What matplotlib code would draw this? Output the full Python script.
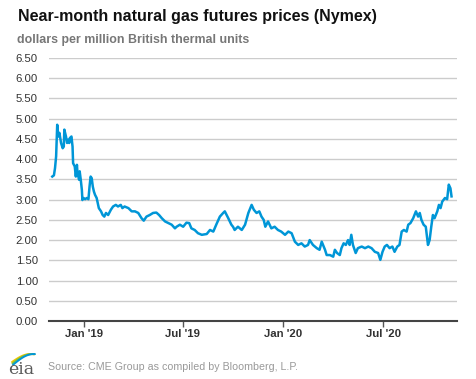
"""Near-month natural gas futures prices (Nymex), EIA style."""

import matplotlib

matplotlib.use("Agg")
import matplotlib.pyplot as plt
import numpy as np
import pandas as pd

plt.rcParams["font.family"] = ["Liberation Sans", "DejaVu Sans"]

dates = [
    "2018-11-05", "2018-11-08", "2018-11-10", "2018-11-12", "2018-11-14", "2018-11-16",
    "2018-11-18", "2018-11-21", "2018-11-24", "2018-11-26", "2018-11-27", "2018-11-30",
    "2018-12-02", "2018-12-04", "2018-12-06", "2018-12-07", "2018-12-10", "2018-12-12",
    "2018-12-13", "2018-12-16", "2018-12-18", "2018-12-20", "2018-12-21", "2018-12-24",
    "2018-12-25", "2018-12-27", "2018-12-29", "2018-12-30", "2019-01-01", "2019-01-04",
    "2019-01-07", "2019-01-10", "2019-01-12", "2019-01-14", "2019-01-16", "2019-01-18",
    "2019-01-20", "2019-01-22", "2019-01-25", "2019-01-27", "2019-01-29", "2019-02-02",
    "2019-02-05", "2019-02-08", "2019-02-11", "2019-02-15", "2019-02-20", "2019-02-24",
    "2019-03-01", "2019-03-05", "2019-03-10", "2019-03-13", "2019-03-17", "2019-03-24",
    "2019-03-30", "2019-04-05", "2019-04-11", "2019-04-17", "2019-04-21", "2019-04-26",
    "2019-05-02", "2019-05-08", "2019-05-14", "2019-05-19", "2019-05-24", "2019-05-30",
    "2019-06-05", "2019-06-11", "2019-06-17", "2019-06-20", "2019-06-26", "2019-07-02",
    "2019-07-08", "2019-07-13", "2019-07-17", "2019-07-23", "2019-07-29", "2019-08-05",
    "2019-08-14", "2019-08-20", "2019-08-26", "2019-09-01", "2019-09-07", "2019-09-13",
    "2019-09-16", "2019-09-22", "2019-09-28", "2019-10-01", "2019-10-04", "2019-10-10",
    "2019-10-17", "2019-10-23", "2019-10-29", "2019-11-04", "2019-11-08", "2019-11-13",
    "2019-11-18", "2019-11-22", "2019-11-26", "2019-11-29", "2019-12-04", "2019-12-10",
    "2019-12-16", "2019-12-22", "2019-12-28", "2020-01-04", "2020-01-10", "2020-01-16",
    "2020-01-22", "2020-01-28", "2020-02-03", "2020-02-09", "2020-02-15", "2020-02-18",
    "2020-02-24", "2020-03-02", "2020-03-07", "2020-03-11", "2020-03-17", "2020-03-20",
    "2020-03-26", "2020-04-01", "2020-04-04", "2020-04-08", "2020-04-13", "2020-04-16",
    "2020-04-20", "2020-04-24", "2020-04-28", "2020-05-01", "2020-05-04", "2020-05-07",
    "2020-05-12", "2020-05-16", "2020-05-23", "2020-05-29", "2020-06-04", "2020-06-10",
    "2020-06-16", "2020-06-22", "2020-06-26", "2020-06-30", "2020-07-04", "2020-07-08",
    "2020-07-13", "2020-07-18", "2020-07-22", "2020-07-27", "2020-07-31", "2020-08-04",
    "2020-08-08", "2020-08-13", "2020-08-16", "2020-08-20", "2020-08-25", "2020-08-30",
    "2020-09-03", "2020-09-06", "2020-09-09", "2020-09-13", "2020-09-17", "2020-09-21",
    "2020-09-24", "2020-09-27", "2020-09-30", "2020-10-03", "2020-10-08", "2020-10-11",
    "2020-10-14", "2020-10-17", "2020-10-22", "2020-10-26", "2020-10-29", "2020-11-01",
    "2020-11-03",
]
prices = [
    3.57, 3.60, 3.78, 4.07, 4.85, 4.56,
    4.65, 4.40, 4.27, 4.31, 4.73, 4.56,
    4.40, 4.48, 4.40, 4.52, 4.56, 4.31,
    3.90, 3.82, 3.57, 3.86, 3.66, 3.49,
    3.70, 3.49, 3.24, 2.99, 3.04, 3.01,
    3.04, 3.01, 3.32, 3.57, 3.53, 3.32,
    3.20, 3.12, 3.04, 2.91, 2.79, 2.71,
    2.62, 2.58, 2.67, 2.62, 2.75, 2.83,
    2.87, 2.83, 2.87, 2.79, 2.83, 2.79,
    2.71, 2.71, 2.67, 2.54, 2.48, 2.58,
    2.62, 2.67, 2.68, 2.62, 2.54, 2.46,
    2.42, 2.38, 2.29, 2.33, 2.38, 2.33,
    2.43, 2.42, 2.29, 2.25, 2.17, 2.13,
    2.15, 2.25, 2.21, 2.40, 2.58, 2.67,
    2.71, 2.55, 2.38, 2.33, 2.25, 2.33,
    2.25, 2.38, 2.67, 2.87, 2.75, 2.67,
    2.71, 2.58, 2.50, 2.33, 2.46, 2.29,
    2.33, 2.25, 2.21, 2.13, 2.21, 2.17,
    1.96, 1.88, 1.92, 1.84, 1.88, 2.00,
    1.88, 1.80, 1.76, 1.96, 1.76, 1.63,
    1.63, 1.59, 1.76, 1.68, 1.63, 1.80,
    1.92, 1.88, 2.00, 1.88, 2.13, 1.88,
    1.68, 1.80, 1.84, 1.80, 1.84, 1.80,
    1.71, 1.68, 1.51, 1.71, 1.84, 1.88,
    1.80, 1.84, 1.71, 1.84, 1.88, 2.21,
    2.25, 2.21, 2.38, 2.42, 2.54, 2.71,
    2.58, 2.67, 2.50, 2.38, 2.33, 1.88,
    2.00, 2.33, 2.62, 2.54, 2.71, 2.87,
    2.79, 2.95, 3.04, 3.01, 3.37, 3.28,
    3.08,
]
y_ticks = [0.0, 0.5, 1.0, 1.5, 2.0, 2.5, 3.0, 3.5, 4.0, 4.5, 5.0, 5.5, 6.0, 6.5]
x_ticks = ["2019-01-01", "2019-07-01", "2020-01-01", "2020-07-01"]
x_tick_labels = ["Jan '19", "Jul '19", "Jan '20", "Jul '20"]

W, H = 477, 379
fig = plt.figure(figsize=(W / 100, H / 100), dpi=100)
ax = fig.add_axes([49 / W, 1 - 321 / H, (457 - 49) / W, (321 - 58) / H])

x = pd.to_datetime(dates)
ax.plot(x, prices, color="#0096d7", lw=1.8, solid_joinstyle="round")

ax.set_xlim(pd.Timestamp("2018-10-30"), pd.Timestamp("2020-11-13"))
ax.set_ylim(0, 6.5)
ax.set_yticks(y_ticks)
ax.set_yticklabels([f"{v:.2f}" for v in y_ticks], color="#333333", fontsize=8.2)
ax.set_xticks(pd.to_datetime(x_ticks))
ax.set_xticklabels(x_tick_labels, color="#333333", fontsize=8.2, fontweight="bold")
ax.tick_params(axis="y", length=0, pad=8)
ax.tick_params(axis="x", length=4, width=1, color="#555555", pad=2)
ax.grid(axis="y", color="#cccccc", lw=1)
ax.set_axisbelow(True)
for side in ["top", "right", "left"]:
    ax.spines[side].set_visible(False)
ax.spines["bottom"].set_color("#444444")
ax.spines["bottom"].set_linewidth(1.5)

fig.text(18 / W, 1 - 17 / H, "Near-month natural gas futures prices (Nymex)",
         fontsize=11.5, fontweight="bold", color="#111111", va="center")
fig.text(17 / W, 1 - 40 / H, "dollars per million British thermal units",
         fontsize=8.9, fontweight="bold", color="#777777", va="center")
fig.text(48 / W, 1 - 367 / H, "Source: CME Group as compiled by Bloomberg, L.P.",
         fontsize=7.7, color="#999999", va="center")

# eia logo
lg = fig.add_axes([6 / W, 1 - 377 / H, 32 / W, 28 / H])
lg.set_xlim(0, 32)
lg.set_ylim(0, 28)
lg.axis("off")
lg.text(15, 8, "eia", family="DejaVu Serif", fontsize=12.5, color="#5a5a5a",
        ha="center", va="center")
t = np.linspace(0, 1, 30)
for off, col in [(0, "#f2c500"), (1.6, "#7bc043"), (3.2, "#0096d7")]:
    lg.plot(6 + 22 * t + off * 0.3, 15 + 8 * np.sin(t * np.pi * 0.6) - off * 0.9 + off * t,
            color=col, lw=1.4, solid_capstyle="round")

fig.savefig("out.png", dpi=100)
